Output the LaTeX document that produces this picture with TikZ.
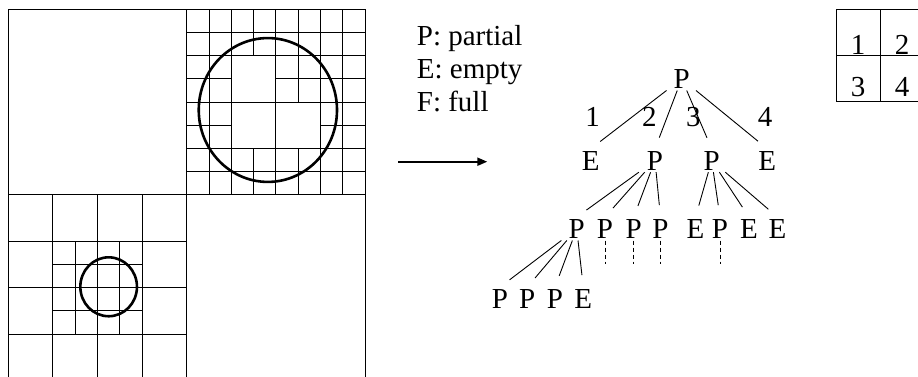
\documentclass[tikz,border=0pt]{standalone}
\usepackage{fontspec}
\setmainfont{Liberation Serif}
\usetikzlibrary{arrows.meta}

\tikzset{
  letter/.style={anchor=base, inner sep=2pt, minimum width=36pt, font=\rmfamily\fontsize{29}{33}\selectfont},
  keytext/.style={anchor=base west, inner sep=0pt, font=\rmfamily\fontsize{29}{33}\selectfont},
  branch/.style={line width=0.9pt, shorten >=12pt},
  stub/.style={line width=0.9pt, dash pattern=on 4pt off 3pt},
  cellline/.style={line width=1pt},
  ring/.style={line width=2.6pt}
}

\begin{document}
\begin{tikzpicture}[x=1pt, y=-1pt]
    \useasboundingbox (0,0) rectangle (918,376);

    % quadtree of the plane, one unit = one finest cell
    \begin{scope}[shift={(8.3,9.3)}, x=22.3pt, y=-23.2pt]
        \draw[cellline] (0,0) rectangle (16,16);
        \draw[cellline] (8,0) -- (8,16) (0,8) -- (16,8);
        % upper right quadrant
        \draw[cellline] (12,0) -- (12,8) (8,4) -- (16,4);
        \foreach \x in {10,14} \draw[cellline] (\x,0) -- (\x,8);
        \foreach \y in {2,6} \draw[cellline] (8,\y) -- (16,\y);
        \foreach \x/\y in {8/0,10/0,12/0,14/0,8/2,12/2,14/2,8/4,14/4,8/6,10/6,12/6,14/6}
            \draw[cellline] (\x+1,\y) -- (\x+1,\y+2) (\x,\y+1) -- (\x+2,\y+1);
        % lower left quadrant
        \draw[cellline] (4,8) -- (4,16) (0,12) -- (8,12);
        \foreach \x in {2,6} \draw[cellline] (\x,8) -- (\x,16);
        \foreach \y in {10,14} \draw[cellline] (0,\y) -- (8,\y);
        \foreach \x/\y in {2/10,4/10,2/12,4/12}
            \draw[cellline] (\x+1,\y) -- (\x+1,\y+2) (\x,\y+1) -- (\x+2,\y+1);
        % the two objects
        \draw[ring] (11.64,4.34) circle (3.1);
        \draw[ring] (4.5,11.96) circle (1.27);
    \end{scope}

    % legend and arrow
    \node[keytext] (kp) at (416.7,45) {P: partial};
    \node[keytext] (ke) at (416.7,78.3) {E: empty};
    \node[keytext] (kf) at (416.7,111.7) {F: full};
    \coordinate (from) at (398.3,161.7);
    \coordinate (to) at (487.3,161.7);
    \draw[line width=2pt, -{Triangle[length=10pt,width=8pt]}] (from) -- (to);

    % the tree
    \node[letter] (r) at (681.7,88.3) {P};
    \foreach \n/\x/\t in {a1/590.7/E, a2/655/P, a3/711.7/P, a4/767.3/E}
        \node[letter] (\n) at (\x,170) {\t};
    \foreach \n/\x/\t in {b1/576.7/P, b2/605/P, b3/633.7/P, b4/660.5/P, b5/695.5/E, b6/720/P, b7/749/E, b8/777.5/E}
        \node[letter] (\n) at (\x,238.3) {\t};
    \foreach \n/\x/\t in {c1/500/P, c2/527.3/P, c3/555/P, c4/583.3/E}
        \node[letter] (\n) at (\x,308.3) {\t};

    \foreach \n in {a1,a2,a3,a4} \draw[branch] (r) -- (\n.north);
    \foreach \n in {b1,b2,b3,b4} \draw[branch] (a2) -- (\n.north);
    \foreach \n in {b5,b6,b7,b8} \draw[branch] (a3) -- (\n.north);
    \foreach \n in {c1,c2,c3,c4} \draw[branch] (b1) -- (\n.north);
    \foreach \n in {b2,b3,b4,b6} {
        \coordinate (\n x) at ([yshift=-23pt]\n.south);
        \draw[stub] (\n.south) -- (\n x);
    }

    % quadrant numbers on the branches
    \foreach \n/\x/\t in {l1/592.7/1, l2/649.3/2, l3/693.3/3, l4/765/4}
        \node[letter, minimum width=0pt] (\n) at (\x,126) {\t};

    % numbering of the quadrants
    \draw[cellline] (836,9.3) rectangle (924,101.7) (880,9.3) -- (880,101.7) (836,55.5) -- (924,55.5);
    \node[letter, minimum width=0pt] (q1) at (858,54) {1};
    \node[letter, minimum width=0pt] (q2) at (902,54) {2};
    \node[letter, minimum width=0pt] (q3) at (858,96.5) {3};
    \node[letter, minimum width=0pt] (q4) at (902,96.5) {4};
\end{tikzpicture}
\end{document}
